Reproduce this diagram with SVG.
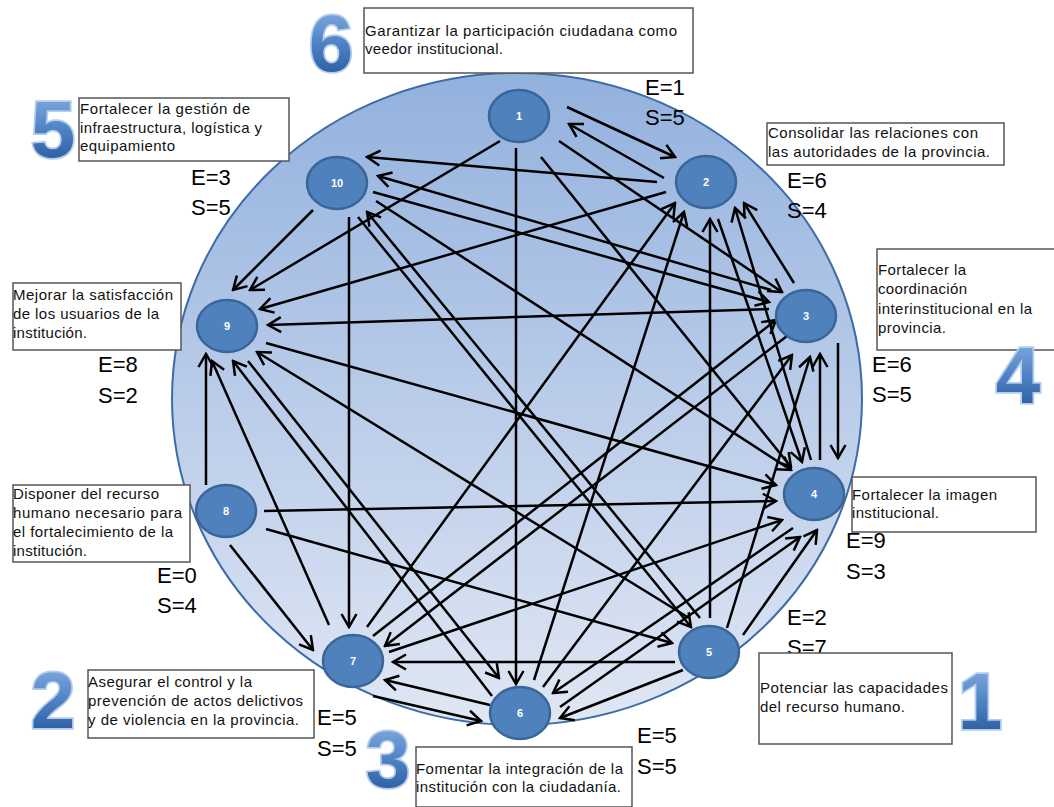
<svg xmlns="http://www.w3.org/2000/svg" width="1054" height="807" viewBox="0 0 1054 807">
  <defs>
    <linearGradient id="disc" x1="0" y1="0" x2="0" y2="1">
      <stop offset="0" stop-color="#93b1de"/>
      <stop offset="1" stop-color="#e0e7f4"/>
    </linearGradient>
    <linearGradient id="bigNum" x1="0" y1="0" x2="0" y2="1">
      <stop offset="0" stop-color="#8fb6e6"/>
      <stop offset="0.5" stop-color="#4f82c4"/>
      <stop offset="1" stop-color="#1f4f93"/>
    </linearGradient>
    <marker id="arr" viewBox="-15 -10 17 20" markerWidth="17" markerHeight="20" refX="0" refY="0" orient="auto" markerUnits="userSpaceOnUse">
      <path d="M-13,-7.5 L0,0 L-13,7.5" fill="none" stroke="#000" stroke-width="2.5"/>
    </marker>
  </defs>
  <style>
    .node ellipse { fill: #4f81bd; stroke: #3a6599; stroke-width: 2.5; }
    .node text.id { fill: #fff; font-family: "Liberation Sans", Arial, sans-serif; font-weight: bold; font-size: 11px; text-anchor: middle; }
    .box rect { fill: #fff; stroke: #555; stroke-width: 1.5; }
    .box text { font-family: "Liberation Sans", Arial, sans-serif; font-size: 15px; fill: #111; }
    .es { font-family: "Liberation Sans", Arial, sans-serif; font-size: 22px; fill: #000; }
    .big { font-family: "Liberation Sans", Arial, sans-serif; font-weight: bold; font-size: 80px; fill: url(#bigNum); stroke: #b3cdef; stroke-width: 3.5; paint-order: stroke; text-anchor: middle; }
    #edges line { stroke: #000; stroke-width: 2.5; marker-end: url(#arr); }
  </style>

  <rect width="1054" height="807" fill="#fff"/>

  <!-- background disc -->
  <ellipse cx="517" cy="399" rx="345" ry="326" fill="url(#disc)" stroke="#3d6ca8" stroke-width="2"/>

  <!-- connectors -->
  <g id="edges">
    <line x1="567" y1="107" x2="675" y2="157"/>
    <line x1="664" y1="178" x2="569" y2="124"/>
    <line x1="500" y1="141" x2="250" y2="290"/>
    <line x1="516" y1="148" x2="516" y2="684"/>
    <line x1="559" y1="141" x2="782" y2="292"/>
    <line x1="541" y1="157" x2="791" y2="467"/>
    <line x1="657" y1="182" x2="367" y2="157"/>
    <line x1="666" y1="192" x2="260" y2="309"/>
    <line x1="718" y1="219" x2="802" y2="462"/>
    <line x1="794" y1="283" x2="744" y2="203"/>
    <line x1="811" y1="460" x2="735" y2="208"/>
    <line x1="710" y1="618" x2="710" y2="219"/>
    <line x1="367" y1="627" x2="675" y2="203"/>
    <line x1="534" y1="680" x2="684" y2="212"/>
    <line x1="769" y1="309" x2="268" y2="325"/>
    <line x1="838" y1="343" x2="838" y2="458"/>
    <line x1="820" y1="460" x2="820" y2="354"/>
    <line x1="771" y1="290" x2="378" y2="176"/>
    <line x1="373" y1="192" x2="769" y2="302"/>
    <line x1="376" y1="201" x2="791" y2="470"/>
    <line x1="313" y1="210" x2="233" y2="290"/>
    <line x1="349" y1="217" x2="349" y2="627"/>
    <line x1="358" y1="217" x2="691" y2="627"/>
    <line x1="700" y1="618" x2="367" y2="212"/>
    <line x1="206" y1="485" x2="206" y2="354"/>
    <line x1="329" y1="625" x2="212" y2="361"/>
    <line x1="492" y1="696" x2="233" y2="361"/>
    <line x1="689" y1="618" x2="257" y2="352"/>
    <line x1="248" y1="361" x2="499" y2="678"/>
    <line x1="266" y1="343" x2="776" y2="485"/>
    <line x1="264" y1="511" x2="776" y2="501"/>
    <line x1="266" y1="529" x2="672" y2="643"/>
    <line x1="230" y1="545" x2="313" y2="650"/>
    <line x1="675" y1="662" x2="393" y2="662"/>
    <line x1="683" y1="670" x2="560" y2="718"/>
    <line x1="727" y1="628" x2="810" y2="357"/>
    <line x1="743" y1="635" x2="817" y2="530"/>
    <line x1="490" y1="705" x2="385" y2="680"/>
    <line x1="373" y1="696" x2="481" y2="721"/>
    <line x1="543" y1="687" x2="792" y2="355"/>
    <line x1="560" y1="707" x2="800" y2="537"/>
    <line x1="793" y1="528" x2="553" y2="693"/>
    <line x1="373" y1="636" x2="776" y2="320"/>
    <line x1="787" y1="336" x2="385" y2="646"/>
    <line x1="389" y1="652" x2="782" y2="520"/>
  </g>

  <!-- nodes -->
  <g id="n1" class="node"><ellipse cx="519" cy="116" rx="30" ry="26"/><text class="id" x="519" y="120">1</text></g>
  <g id="n2" class="node"><ellipse cx="706" cy="182" rx="30" ry="26"/><text class="id" x="706" y="186">2</text></g>
  <g id="n3" class="node"><ellipse cx="806" cy="316" rx="30" ry="26"/><text class="id" x="806" y="320">3</text></g>
  <g id="n4" class="node"><ellipse cx="814" cy="494" rx="30" ry="26"/><text class="id" x="814" y="498">4</text></g>
  <g id="n5" class="node"><ellipse cx="709" cy="652" rx="30" ry="26"/><text class="id" x="709" y="656">5</text></g>
  <g id="n6" class="node"><ellipse cx="520" cy="713" rx="30" ry="26"/><text class="id" x="520" y="717">6</text></g>
  <g id="n7" class="node"><ellipse cx="353" cy="661" rx="30" ry="26"/><text class="id" x="353" y="665">7</text></g>
  <g id="n8" class="node"><ellipse cx="226" cy="511" rx="30" ry="26"/><text class="id" x="226" y="515">8</text></g>
  <g id="n9" class="node"><ellipse cx="227" cy="326" rx="30" ry="26"/><text class="id" x="227" y="330">9</text></g>
  <g id="n10" class="node"><ellipse cx="337" cy="183" rx="30" ry="26"/><text class="id" x="337" y="187">10</text></g>

  <!-- in/out counts -->
  <g id="counts">
    <text class="es" x="645" y="95">E=1</text><text class="es" x="645" y="125">S=5</text>
    <text class="es" x="787" y="188">E=6</text><text class="es" x="787" y="218">S=4</text>
    <text class="es" x="872" y="372">E=6</text><text class="es" x="872" y="402">S=5</text>
    <text class="es" x="846" y="548">E=9</text><text class="es" x="846" y="579">S=3</text>
    <text class="es" x="787" y="625">E=2</text><text class="es" x="787" y="655">S=7</text>
    <text class="es" x="637" y="743">E=5</text><text class="es" x="637" y="774">S=5</text>
    <text class="es" x="317" y="725">E=5</text><text class="es" x="317" y="756">S=5</text>
    <text class="es" x="157" y="583">E=0</text><text class="es" x="157" y="613">S=4</text>
    <text class="es" x="98" y="372">E=8</text><text class="es" x="98" y="403">S=2</text>
    <text class="es" x="191" y="185">E=3</text><text class="es" x="191" y="215">S=5</text>
  </g>

  <!-- objective boxes -->
  <g id="obj6" class="box">
    <rect x="364" y="8" width="329" height="65"/>
    <text x="365" y="36" textLength="312" lengthAdjust="spacing">Garantizar la participación ciudadana como</text>
    <text x="365" y="54" textLength="138" lengthAdjust="spacing">veedor institucional.</text>
  </g>
  <g id="obj5" class="box">
    <rect x="79" y="98" width="210" height="63"/>
    <text x="80" y="114" textLength="170" lengthAdjust="spacing">Fortalecer la gestión  de</text>
    <text x="80" y="133" textLength="182" lengthAdjust="spacing">infraestructura, logística y</text>
    <text x="80" y="151" textLength="95" lengthAdjust="spacing">equipamiento</text>
  </g>
  <g id="obj2" class="box">
    <rect x="767" y="123" width="237" height="42"/>
    <text x="768" y="138" textLength="210" lengthAdjust="spacing">Consolidar las relaciones con</text>
    <text x="768" y="157" textLength="222" lengthAdjust="spacing">las autoridades de la provincia.</text>
  </g>
  <g id="obj3" class="box">
    <rect x="877" y="249" width="180" height="101"/>
    <text x="878" y="275" textLength="88" lengthAdjust="spacing">Fortalecer la</text>
    <text x="878" y="294" textLength="89" lengthAdjust="spacing">coordinación</text>
    <text x="878" y="314" textLength="154" lengthAdjust="spacing">interinstitucional en la</text>
    <text x="878" y="333" textLength="68" lengthAdjust="spacing">provincia.</text>
  </g>
  <g id="obj9" class="box">
    <rect x="13" y="283" width="168" height="67"/>
    <text x="13" y="300" textLength="160" lengthAdjust="spacing">Mejorar la satisfacción</text>
    <text x="13" y="319" textLength="146" lengthAdjust="spacing">de los usuarios de la</text>
    <text x="13" y="338" textLength="74" lengthAdjust="spacing">institución.</text>
  </g>
  <g id="obj4" class="box">
    <rect x="852" y="477" width="184" height="55"/>
    <text x="852" y="500" textLength="145" lengthAdjust="spacing">Fortalecer la imagen</text>
    <text x="852" y="518" textLength="87" lengthAdjust="spacing">institucional.</text>
  </g>
  <g id="obj8" class="box">
    <rect x="13" y="485" width="177" height="77"/>
    <text x="13" y="499" textLength="146" lengthAdjust="spacing">Disponer del recurso</text>
    <text x="13" y="518" textLength="169" lengthAdjust="spacing">humano necesario para</text>
    <text x="13" y="537" textLength="160" lengthAdjust="spacing">el fortalecimiento de la</text>
    <text x="13" y="556" textLength="74" lengthAdjust="spacing">institución.</text>
  </g>
  <g id="obj1" class="box">
    <rect x="759" y="653" width="193" height="91"/>
    <text x="760" y="693" textLength="188" lengthAdjust="spacing">Potenciar las capacidades</text>
    <text x="760" y="712" textLength="145" lengthAdjust="spacing">del recurso humano.</text>
  </g>
  <g id="obj7" class="box">
    <rect x="88" y="670" width="226" height="68"/>
    <text x="88" y="687" textLength="164" lengthAdjust="spacing">Asegurar el control y la</text>
    <text x="88" y="706" textLength="215" lengthAdjust="spacing">prevención de actos delictivos</text>
    <text x="88" y="725" textLength="211" lengthAdjust="spacing">y de violencia en la provincia.</text>
  </g>
  <g id="obj6b" class="box">
    <rect x="416" y="747" width="216" height="60"/>
    <text x="416" y="774" textLength="207" lengthAdjust="spacing">Fomentar la integración de la</text>
    <text x="416" y="792" textLength="205" lengthAdjust="spacing">institución con la ciudadanía.</text>
  </g>

  <!-- priority numerals -->
  <g id="ranks">
    <text class="big" x="331" y="71">6</text>
    <text class="big" x="53" y="157">5</text>
    <text class="big" x="1018" y="403">4</text>
    <text class="big" x="980" y="729">1</text>
    <text class="big" x="53" y="728">2</text>
    <text class="big" x="388" y="787">3</text>
  </g>
</svg>
